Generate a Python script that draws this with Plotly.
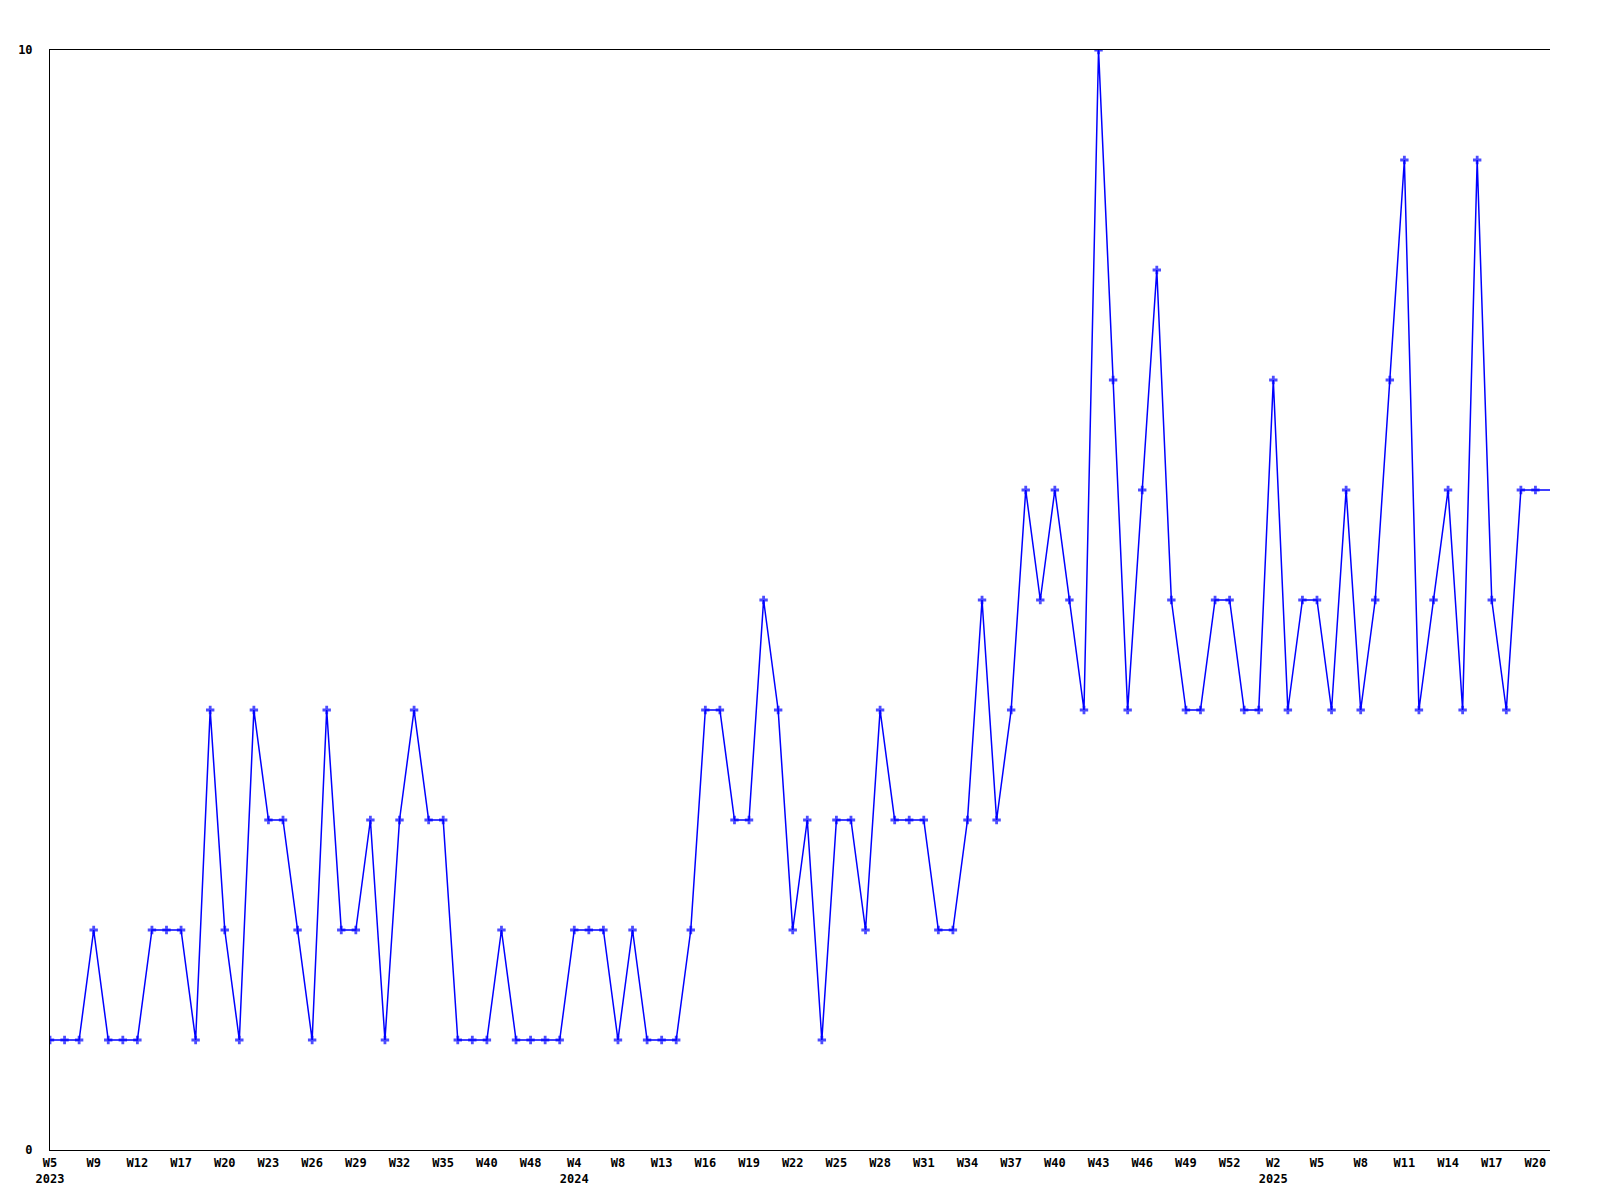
import plotly.graph_objects as go

# Weekly values (one point per week index)
values = [1, 1, 1, 2, 1, 1, 1, 2, 2, 2,
          1, 4, 2, 1, 4, 3, 3, 2, 1, 4,
          2, 2, 3, 1, 3, 4, 3, 3, 1, 1,
          1, 2, 1, 1, 1, 1, 2, 2, 2, 1,
          2, 1, 1, 1, 2, 4, 4, 3, 3, 5,
          4, 2, 3, 1, 3, 3, 2, 4, 3, 3,
          3, 2, 2, 3, 5, 3, 4, 6, 5, 6,
          5, 4, 10, 7, 4, 6, 8, 5, 4, 4,
          5, 5, 4, 4, 7, 4, 5, 5, 4, 6,
          4, 5, 7, 9, 4, 5, 6, 4, 9, 5,
          4, 6, 6, 6]

# Tick labels shown every third point
tick_labels = ["W5<br>2023", "W9", "W12", "W17", "W20", "W23", "W26", "W29",
               "W32", "W35", "W40", "W48", "W4<br>2024", "W8", "W13", "W16",
               "W19", "W22", "W25", "W28", "W31", "W34", "W37", "W40", "W43",
               "W46", "W49", "W52", "W2<br>2025", "W5", "W8", "W11", "W14",
               "W17", "W20"]
tick_step = 3

x = list(range(len(values)))
tick_vals = [i * tick_step for i in range(len(tick_labels))]
marker_sizes = [7] * (len(values) - 1) + [0]

font = dict(family="DejaVu Sans Mono", size=12, color="black", weight="bold")

fig = go.Figure()
fig.add_trace(go.Scatter(
    x=x, y=values, mode="lines+markers",
    line=dict(color="#0000FF", width=1.5),
    marker=dict(symbol="cross", size=marker_sizes, color="#0000FF",
                line=dict(width=0)),
    showlegend=False, hoverinfo="x+y",
))

fig.update_layout(
    width=1584, height=1184,
    margin=dict(l=42, r=42, t=42, b=42),
    plot_bgcolor="white", paper_bgcolor="white",
    font=font,
    xaxis=dict(
        range=[0, len(values) - 1], automargin=False,
        tickmode="array", tickvals=tick_vals, ticktext=tick_labels,
        showgrid=False, zeroline=False,
        showline=True, linecolor="black", linewidth=1, mirror=True,
        ticks="", tickfont=font, ticklabelstandoff=2,
    ),
    yaxis=dict(
        range=[0, 10], automargin=False,
        tickmode="array", tickvals=[0, 10], ticktext=["0", "10"],
        showgrid=False, zeroline=False,
        showline=True, linecolor="black", linewidth=1, mirror=False,
        ticks="", tickfont=font, ticklabelstandoff=14,
    ),
)

fig.write_html("out.html")
